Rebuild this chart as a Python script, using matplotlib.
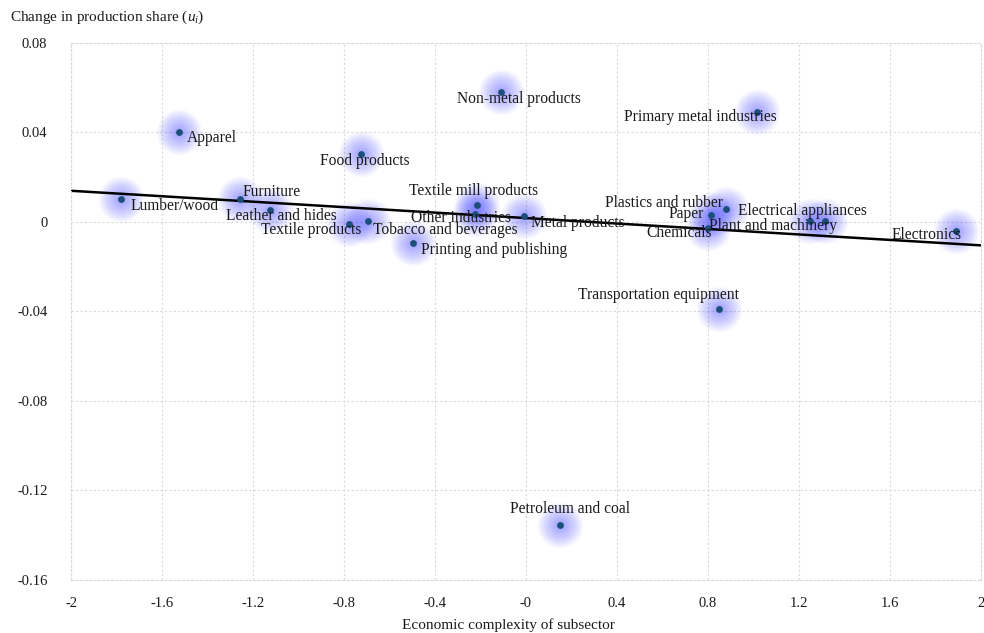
import numpy as np
import matplotlib
matplotlib.use('Agg')
import matplotlib.pyplot as plt

plt.rcParams['font.family'] = ['Liberation Serif', 'DejaVu Serif']
plt.rcParams['mathtext.fontset'] = 'custom'
plt.rcParams['mathtext.rm'] = 'Liberation Serif'
plt.rcParams['mathtext.it'] = 'Liberation Serif:italic'

# Data
sectors = ['Lumber/wood', 'Apparel', 'Furniture', 'Leather and hides', 'Food products',
           'Textile products', 'Tobacco and beverages', 'Printing and publishing',
           'Textile mill products', 'Other industries', 'Metal products', 'Non-metal products',
           'Primary metal industries', 'Petroleum and coal', 'Transportation equipment',
           'Plastics and rubber', 'Paper', 'Chemicals', 'Plant and machinery',
           'Electrical appliances', 'Electronics']
complexity = [-1.782, -1.527, -1.257, -1.125, -0.724, -0.777, -0.695, -0.495, -0.217, -0.224,
              -0.009, -0.110, 1.015, 0.149, 0.848, 0.878, 0.812, 0.799, 1.248, 1.314, 1.889]
share_change = [0.0101, 0.0402, 0.0101, 0.0054, 0.0305, -0.0009, 0.0006, -0.0093, 0.0076, 0.0036,
                0.0027, 0.0581, 0.0493, -0.1354, -0.0389, 0.0058, 0.0030, -0.0028, 0.0006,
                0.0004, -0.0039]

x_ticks = [-2, -1.6, -1.2, -0.8, -0.4, 0, 0.4, 0.8, 1.2, 1.6, 2]
x_tick_labels = ['-2', '-1.6', '-1.2', '-0.8', '-0.4', '-0', '0.4', '0.8', '1.2', '1.6', '2']
y_ticks = [-0.16, -0.12, -0.08, -0.04, 0, 0.04, 0.08]
y_tick_labels = ['-0.16', '-0.12', '-0.08', '-0.04', '0', '0.04', '0.08']

# label placement: (dx px, dy px downwards, ha)
label_pos = {
    'Lumber/wood': (10, 7, 'left'),
    'Apparel': (8, 6, 'left'),
    'Furniture': (3, -7, 'left'),
    'Leather and hides': (11, 6, 'center'),
    'Food products': (3, 7, 'center'),
    'Textile products': (-38, 6, 'center'),
    'Tobacco and beverages': (5, 9, 'left'),
    'Printing and publishing': (8, 7, 'left'),
    'Textile mill products': (-3, -14, 'center'),
    'Other industries': (-14, 4, 'center'),
    'Metal products': (7, 7, 'left'),
    'Non-metal products': (18, 7, 'center'),
    'Primary metal industries': (-57, 5, 'center'),
    'Petroleum and coal': (10, -16, 'center'),
    'Transportation equipment': (-60, -14, 'center'),
    'Plastics and rubber': (-3, -6, 'right'),
    'Paper': (-7, -1, 'right'),
    'Chemicals': (-29, 5, 'center'),
    'Plant and machinery': (-37, 5, 'center'),
    'Electrical appliances': (-23, -10, 'center'),
    'Electronics': (-29, 4, 'center'),
}

fig = plt.figure(figsize=(9.84, 6.33), dpi=100)
ax = fig.add_axes([71 / 984, 1 - 580 / 633, 910 / 984, 537 / 633])

grid_color = '#d9d9d9'
ax.grid(True, color=grid_color, linestyle=(0, (2, 2)), linewidth=0.8)
ax.set_axisbelow(True)
for s in ax.spines.values():
    s.set_color(grid_color)
    s.set_linestyle((0, (2, 2)))
    s.set_linewidth(0.8)

x = np.array(complexity)
y = np.array(share_change)

# soft glow around points (stacked translucent discs)
for r in np.linspace(23, 3, 26):
    ax.scatter(x, y, s=(2 * r / 1.389) ** 2, color='#5858ff', alpha=0.022, linewidths=0, zorder=1)

# fitted line
slope, intercept = np.polyfit(x, y, 1)
xs = np.array([-2, 2])
ax.plot(xs, slope * xs + intercept, color='black', linewidth=1.8, zorder=2)

ax.scatter(x, y, s=24, color='#1b4f7a', linewidths=0, zorder=3)

for name, xi, yi in zip(sectors, complexity, share_change):
    dx, dy, ha = label_pos[name]
    ax.annotate(name, (xi, yi), xytext=(dx * 0.72, -dy * 0.72), textcoords='offset points',
                ha=ha, va='center', fontsize=11.2, color='#1a1a1a', zorder=4)

ax.set_xlim(-2, 2)
ax.set_ylim(-0.16, 0.08)
ax.set_xticks(x_ticks)
ax.set_xticklabels(x_tick_labels)
ax.set_yticks(y_ticks)
ax.set_yticklabels(y_tick_labels)
ax.tick_params(length=0, labelsize=10.5, colors='#1a1a1a')
ax.tick_params(axis='y', pad=17)
ax.tick_params(axis='x', pad=12)

fig.text(10 / 984, 1 - 17 / 633, r'Change in production share ($u_i$)', fontsize=11,
         va='center', ha='left', color='#1a1a1a')
fig.text(508 / 984, 1 - 625 / 633, 'Economic complexity of subsector', fontsize=11,
         va='center', ha='center', color='#1a1a1a')

fig.savefig('out.png', dpi=100)
